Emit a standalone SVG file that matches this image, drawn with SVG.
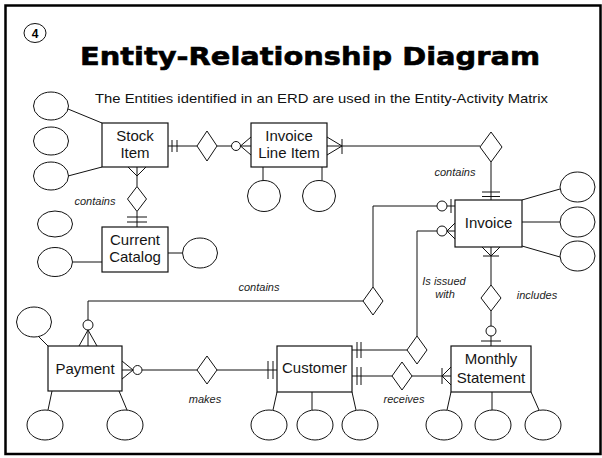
<svg xmlns="http://www.w3.org/2000/svg" width="602" height="458" viewBox="0 0 602 458">
  <style>
    .frame { fill: #fff; stroke: #000; stroke-width: 2.5; }
    .box { fill: #fff; stroke: #111; stroke-width: 1.2; }
    .attr { fill: #fff; stroke: #111; stroke-width: 1; }
    .rel { fill: #fff; stroke: #111; stroke-width: 1; }
    .ln { fill: none; stroke: #111; stroke-width: 1; }
    .ring { fill: #fff; stroke: #111; stroke-width: 1; }
    .title { font-family: "DejaVu Sans", "Liberation Sans", sans-serif; font-weight: bold; font-size: 25px; fill: #000; stroke: #000; stroke-width: 0.6; }
    .sub { font-family: "Liberation Sans", Arial, sans-serif; font-size: 13.5px; fill: #111; }
    .name { font-family: "Liberation Sans", Arial, sans-serif; font-size: 15px; fill: #151515; text-anchor: middle; }
    .lbl { font-family: "Liberation Sans", Arial, sans-serif; font-size: 11px; font-style: italic; fill: #222; text-anchor: middle; }
    .num { font-family: "Liberation Sans", Arial, sans-serif; font-size: 12px; font-weight: bold; fill: #000; text-anchor: middle; }
  </style>

  <!-- page frame -->
  <rect class="frame" x="5.5" y="5.5" width="595" height="448.5"/>

  <!-- slide number and heading -->
  <g id="heading">
    <ellipse class="ring" cx="35" cy="33" rx="11" ry="9.5"/>
    <text class="num" x="35" y="37.5">4</text>
    <text class="title" x="80" y="64.5" textLength="460" lengthAdjust="spacingAndGlyphs">Entity-Relationship Diagram</text>
    <text class="sub" x="95" y="103" textLength="453" lengthAdjust="spacingAndGlyphs">The Entities identified in an ERD are used in the Entity-Activity Matrix</text>
  </g>

  <!-- relationship lines, cardinality marks and attribute links -->
  <g id="connectors">
    <!-- Stock Item - Invoice Line Item -->
    <path class="ln" d="M168 146H197M172 140V152M177 140V152"/>
    <path class="ln" d="M217 146H231.5M240.5 146H251M240.5 146L251 137M240.5 146L251 155"/>
    <circle class="ring" cx="236" cy="146" r="4.5"/>

    <!-- Invoice Line Item - Invoice -->
    <path class="ln" d="M327 137L342 146L327 155M327 146H480M342 139V154"/>
    <path class="ln" d="M491 162V200M482 192H500M482 196.5H500"/>

    <!-- Stock Item - Current Catalog -->
    <path class="ln" d="M128 167L137 176L146 167M137 167V186.5M137 211.5V227M127 217H147M127 222H147"/>

    <!-- Invoice - Payment -->
    <path class="ln" d="M455 206H447M451 199V213M437 206H373V287M363 301H88V320M88 330V346M88 330L79 346M88 330L97 346"/>
    <circle class="ring" cx="442" cy="206" r="5"/>
    <circle class="ring" cx="88" cy="325" r="5"/>

    <!-- Invoice - Customer -->
    <path class="ln" d="M455 223L447 231L455 239M447 231H455M437 231H417V336M407 350H352M357 342V358M361 342V358"/>
    <circle class="ring" cx="442" cy="231" r="5"/>

    <!-- Invoice - Monthly Statement -->
    <path class="ln" d="M482 247L491 256L500 247M491 247V285M483 256H499M491 311V326M491 336V346M481 341H501"/>
    <circle class="ring" cx="491" cy="331" r="5"/>

    <!-- Payment - Customer -->
    <path class="ln" d="M122 361L133 370L122 379M122 370H133M142 370H197M217 370H277M268 361V379M273 361V379"/>
    <circle class="ring" cx="137.5" cy="370" r="4.5"/>

    <!-- Customer - Monthly Statement -->
    <path class="ln" d="M352 376H392M357 367V385M361 367V385M412 376H451M442 376L451 367M442 376L451 385M442 368V384"/>

    <!-- attribute links -->
    <path class="ln" d="M68 109L102 123M68 176L102 167"/>
    <path class="ln" d="M263 167V181M322 167V181"/>
    <path class="ln" d="M73 262H102M168 253H182"/>
    <path class="ln" d="M522 200L560 189M522 222H560M522 246L560 257"/>
    <path class="ln" d="M38 336L48 346M52 391L48 410M119 391L127 410"/>
    <path class="ln" d="M277 392L273 410M312 392V410M352 392L356 410"/>
    <path class="ln" d="M451 392L447 410M492 392V410M531 392L539 410"/>
  </g>

  <!-- relationships -->
  <g id="rel-stock-line"><path class="rel" d="M207 131L217 146L207 161L197 146Z"/></g>
  <g id="rel-stock-catalog">
    <path class="rel" d="M137 186.5L146.5 199L137 211.5L127.5 199Z"/>
    <text class="lbl" x="95" y="205">contains</text>
  </g>
  <g id="rel-line-invoice">
    <path class="rel" d="M491 132L502 147L491 162L480 147Z"/>
    <text class="lbl" x="455" y="176">contains</text>
  </g>
  <g id="rel-invoice-payment">
    <path class="rel" d="M373 287L383 301L373 315L363 301Z"/>
    <text class="lbl" x="259" y="291">contains</text>
  </g>
  <g id="rel-invoice-customer">
    <path class="rel" d="M417 336L427 350L417 364L407 350Z"/>
    <text class="lbl" x="444" y="285">Is issued</text>
    <text class="lbl" x="445" y="298">with</text>
  </g>
  <g id="rel-invoice-statement">
    <path class="rel" d="M491 285L501 298L491 311L481 298Z"/>
    <text class="lbl" x="537" y="299">includes</text>
  </g>
  <g id="rel-payment-customer">
    <path class="rel" d="M207 356L217 370L207 384L197 370Z"/>
    <text class="lbl" x="205" y="403">makes</text>
  </g>
  <g id="rel-customer-statement">
    <path class="rel" d="M402 362L412 376L402 390L392 376Z"/>
    <text class="lbl" x="404" y="403">receives</text>
  </g>

  <!-- entities with their attributes -->
  <g id="stock-item">
    <rect class="box" x="102" y="123" width="66" height="44"/>
    <text class="name" x="135" y="141">Stock</text>
    <text class="name" x="135" y="158">Item</text>
    <ellipse class="attr" cx="51" cy="106" rx="17.5" ry="14"/>
    <ellipse class="attr" cx="51" cy="141" rx="17.5" ry="14"/>
    <ellipse class="attr" cx="51" cy="176" rx="17.5" ry="14"/>
  </g>

  <g id="invoice-line-item">
    <rect class="box" x="251" y="123" width="76" height="44"/>
    <text class="name" x="289" y="141">Invoice</text>
    <text class="name" x="289" y="158">Line Item</text>
    <ellipse class="attr" cx="264" cy="196" rx="16.5" ry="15.5"/>
    <ellipse class="attr" cx="319" cy="196" rx="16.5" ry="15.5"/>
  </g>

  <g id="current-catalog">
    <rect class="box" x="102" y="227" width="66" height="45"/>
    <text class="name" x="135" y="245">Current</text>
    <text class="name" x="135" y="262">Catalog</text>
    <ellipse class="attr" cx="55" cy="224" rx="17.5" ry="13"/>
    <ellipse class="attr" cx="55" cy="262" rx="17.5" ry="14.5"/>
    <ellipse class="attr" cx="200" cy="253" rx="17.5" ry="15"/>
  </g>

  <g id="invoice">
    <rect class="box" x="455" y="200" width="67" height="47"/>
    <text class="name" x="488.5" y="228">Invoice</text>
    <ellipse class="attr" cx="577.5" cy="187" rx="17.5" ry="15"/>
    <ellipse class="attr" cx="577.5" cy="222" rx="17.5" ry="15"/>
    <ellipse class="attr" cx="577.5" cy="256" rx="17.5" ry="15"/>
  </g>

  <g id="payment">
    <rect class="box" x="48" y="346" width="74" height="45"/>
    <text class="name" x="85" y="374">Payment</text>
    <ellipse class="attr" cx="34" cy="322" rx="17.5" ry="15"/>
    <ellipse class="attr" cx="45" cy="425" rx="18" ry="15"/>
    <ellipse class="attr" cx="125" cy="425" rx="18" ry="15"/>
  </g>

  <g id="customer">
    <rect class="box" x="277" y="346" width="75" height="46"/>
    <text class="name" x="314.5" y="373">Customer</text>
    <ellipse class="attr" cx="269" cy="425" rx="18" ry="15"/>
    <ellipse class="attr" cx="315" cy="425" rx="18" ry="15"/>
    <ellipse class="attr" cx="360" cy="425" rx="18" ry="15"/>
  </g>

  <g id="monthly-statement">
    <rect class="box" x="451" y="346" width="80" height="46"/>
    <text class="name" x="491" y="364">Monthly</text>
    <text class="name" x="491" y="383">Statement</text>
    <ellipse class="attr" cx="444" cy="425" rx="18" ry="15"/>
    <ellipse class="attr" cx="493" cy="425" rx="18" ry="15"/>
    <ellipse class="attr" cx="543" cy="425" rx="18" ry="15"/>
  </g>
</svg>
